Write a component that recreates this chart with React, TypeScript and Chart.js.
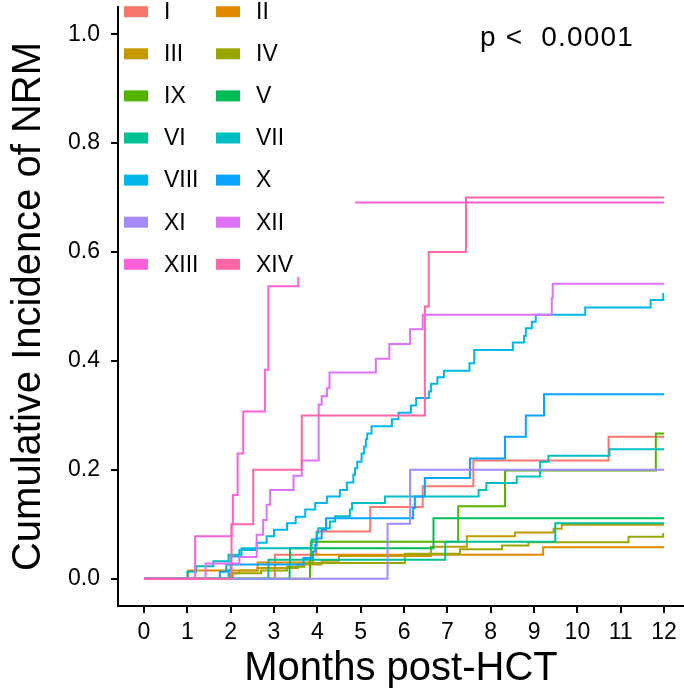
import React, { useEffect, useRef } from 'react';
import { Chart, registerables } from 'chart.js';

Chart.register(...registerables);

const FONT = '"Liberation Sans", Arial, Helvetica, sans-serif';

const groups = ['I', 'II', 'III', 'IV', 'IX', 'V', 'VI', 'VII', 'VIII', 'X', 'XI', 'XII', 'XIII', 'XIV'];
const colors = ['#F8766D', '#E38900', '#C49A00', '#99A800', '#53B400', '#00BC56', '#00C094', '#00BFC4', '#00B6EB', '#06A4FF', '#A58AFF', '#DF70F8', '#FB61D7', '#FF66A8'];

const tI = [0, 3.02, 3.98, 5.22, 6.43, 7.6, 10.72, 12];
const vI = [0, 0.044, 0.087, 0.132, 0.17, 0.217, 0.261, 0.261];

const tII = [0, 1.02, 2.62, 3.9, 9.21, 12];
const vII = [0, 0.015, 0.03, 0.044, 0.058, 0.058];

const tIII = [0, 1.99, 2.2, 2.62, 3.55, 4.1, 4.5, 6.62, 7.45, 8.56, 9.45, 9.64, 12];
const vIII = [0, 0.01, 0.015, 0.02, 0.026, 0.033, 0.042, 0.059, 0.078, 0.085, 0.092, 0.099, 0.099];

const tIV = [0, 2.05, 2.7, 3.3, 3.7, 6.02, 7.29, 8.26, 8.87, 11.18, 11.98, 12];
const vIV = [0, 0.01, 0.015, 0.022, 0.029, 0.046, 0.054, 0.061, 0.067, 0.077, 0.082, 0.082];

const tIX = [0, 3.83, 3.85, 7.25, 8.33, 11.81, 12];
const vIX = [0, 0.034, 0.068, 0.133, 0.199, 0.267, 0.267];

const tV = [0, 3.36, 3.37, 6.68, 12];
const vV = [0, 0.028, 0.056, 0.111, 0.111];

const tVI = [0, 2.87, 6.95, 9.49, 12];
const vVI = [0, 0.035, 0.068, 0.102, 0.102];

const tVII = [0, 1.0, 1.2, 1.6, 1.95, 2.25, 3.87, 3.99, 4.02, 4.29, 4.41, 4.75, 4.8, 5.56, 7.72, 7.9, 8.6, 9.14, 9.33, 10.74, 12];
const vVII = [0, 0.013, 0.023, 0.032, 0.044, 0.056, 0.072, 0.084, 0.093, 0.105, 0.115, 0.127, 0.139, 0.151, 0.163, 0.176, 0.188, 0.215, 0.226, 0.238, 0.238];

const tVIII = [0, 1.95, 2.0, 2.2, 2.6, 2.83, 3.0, 3.3, 3.5, 3.72, 3.95, 4.22, 4.52, 4.68, 4.83, 4.87, 4.92, 5.02, 5.08, 5.12, 5.15, 5.25, 5.72, 5.87, 6.16, 6.28, 6.58, 6.62, 6.77, 6.92, 7.51, 7.62, 8.51, 8.77, 8.81, 8.95, 9.04, 10.18, 11.69, 11.98, 12];
const vVIII = [0, 0.015, 0.041, 0.053, 0.066, 0.078, 0.09, 0.102, 0.114, 0.127, 0.139, 0.151, 0.163, 0.177, 0.191, 0.203, 0.215, 0.23, 0.243, 0.256, 0.267, 0.28, 0.293, 0.305, 0.318, 0.332, 0.344, 0.358, 0.37, 0.382, 0.396, 0.42, 0.434, 0.446, 0.46, 0.472, 0.485, 0.498, 0.512, 0.523, 0.523];

const tX = [0, 1.75, 1.9, 3.68, 3.9, 3.95, 3.98, 4.1, 4.2, 6.21, 6.25, 6.48, 7.52, 8.33, 8.81, 9.23, 12];
const vX = [0, 0.013, 0.026, 0.038, 0.05, 0.062, 0.074, 0.09, 0.111, 0.13, 0.151, 0.185, 0.221, 0.261, 0.3, 0.339, 0.339];

const tXI = [0, 5.62, 6.14, 12];
const vXI = [0, 0.101, 0.2, 0.2];

const tXII = [0, 1.42, 2.2, 2.6, 2.75, 2.83, 2.91, 3.45, 3.64, 4.03, 4.1, 4.22, 4.28, 5.35, 5.66, 6.14, 6.43, 9.41, 9.43, 12];
const vXII = [0, 0.028, 0.04, 0.081, 0.108, 0.136, 0.163, 0.189, 0.217, 0.32, 0.335, 0.35, 0.379, 0.404, 0.431, 0.458, 0.485, 0.515, 0.542, 0.542];

const tXIII = [0, 1.18, 2.02, 2.05, 2.16, 2.29, 2.79, 2.87, 3.56, 4.2, 4.87, 12];
const vXIII = [0, 0.078, 0.1, 0.154, 0.23, 0.307, 0.384, 0.537, 0.554, null, 0.691, 0.691];

const tXIV = [0, 2.02, 2.52, 3.64, 6.48, 6.57, 7.43, 12];
const vXIV = [0, 0.1, 0.2, 0.3, 0.5, 0.6, 0.7, 0.7];

const seriesTimes = [tI, tII, tIII, tIV, tIX, tV, tVI, tVII, tVIII, tX, tXI, tXII, tXIII, tXIV];
const seriesValues = [vI, vII, vIII, vIV, vIX, vV, vVI, vVII, vVIII, vX, vXI, vXII, vXIII, vXIV];

const xTicks = [0, 1, 2, 3, 4, 5, 6, 7, 8, 9, 10, 11, 12];
const yTicks = [0, 0.2, 0.4, 0.6, 0.8, 1.0];

const xTitle = 'Months post-HCT';
const yTitle = 'Cumulative Incidence of NRM';
const pLabel = 'p <  0.0001';

export default function App() {
  const ref = useRef<HTMLCanvasElement>(null);

  useEffect(() => {
    document.body.style.margin = '0';
    const canvas = ref.current;
    if (!canvas) return;

    const datasets = groups.map((g, i) => ({
      label: g,
      data: seriesTimes[i].map((t, j) => ({ x: t, y: seriesValues[i][j] })),
      borderColor: colors[i],
      backgroundColor: colors[i],
      borderWidth: 2,
      pointRadius: 0,
      pointHoverRadius: 0,
      stepped: true,
      fill: false,
      spanGaps: false,
      order: groups.length - 1 - i,
    }));

    const overlay = {
      id: 'overlay',
      afterDraw(chart: any) {
        const ctx = chart.ctx;
        const area = chart.chartArea;
        ctx.save();
        groups.forEach((g, i) => {
          const col = i % 2;
          const row = Math.floor(i / 2);
          const x0 = area.left + 6 + col * 92;
          const yc = area.top + 4.7 + row * 42.1;
          ctx.fillStyle = colors[i];
          ctx.fillRect(x0, yc - 5.5, 24, 11);
          ctx.fillStyle = '#000';
          ctx.font = `23px ${FONT}`;
          ctx.textAlign = 'left';
          ctx.textBaseline = 'middle';
          ctx.fillText(g, x0 + 40, yc + 1);
        });
        ctx.font = `28px ${FONT}`;
        ctx.fillStyle = '#000';
        ctx.textAlign = 'left';
        ctx.textBaseline = 'middle';
        try { (ctx as any).letterSpacing = '1.2px'; } catch (e) {}
        ctx.fillText(pLabel, 480, 38);
        ctx.restore();
      },
    };

    const chart = new Chart(canvas, {
      type: 'line',
      data: { datasets: datasets as any },
      options: {
        animation: false,
        responsive: false,
        devicePixelRatio: 1,
        layout: { padding: { top: 7, right: 0, left: 0, bottom: 0 } },
        plugins: {
          legend: { display: false },
          tooltip: { enabled: false },
        },
        scales: {
          x: {
            type: 'linear',
            min: -0.6,
            max: 12.46,
            afterBuildTicks: (s: any) => { s.ticks = xTicks.map((v) => ({ value: v })); },
            afterFit: (s: any) => { s.height = 89; s.paddingLeft = 0; s.paddingRight = 0; },
            ticks: {
              autoSkip: false,
              maxRotation: 0,
              color: '#000',
              padding: 6,
              font: { size: 23, family: FONT },
              callback: (v: any) => String(v),
            },
            grid: { display: true, drawOnChartArea: false, drawTicks: true, tickLength: 7, lineWidth: 2, color: '#000' },
            border: { display: true, color: '#000', width: 2 },
            title: { display: true, text: xTitle, color: '#000', font: { size: 40, family: FONT }, padding: { top: 0, bottom: 2 } },
          },
          y: {
            type: 'linear',
            min: -0.05,
            max: 1.05,
            afterBuildTicks: (s: any) => { s.ticks = yTicks.map((v) => ({ value: v })); },
            afterFit: (s: any) => { s.width = 118; s.paddingTop = 0; s.paddingBottom = 0; },
            ticks: {
              color: '#000',
              padding: 11,
              font: { size: 23, family: FONT },
              callback: (v: any) => Number(v).toFixed(1),
            },
            grid: { display: true, drawOnChartArea: false, drawTicks: true, tickLength: 7, lineWidth: 2, color: '#000' },
            border: { display: true, color: '#000', width: 2 },
            title: { display: true, text: yTitle, color: '#000', font: { size: 40, family: FONT }, padding: { top: 5, bottom: 0 } },
          },
        },
      },
      plugins: [overlay],
    });

    return () => chart.destroy();
  }, []);

  return (
    <div style={{ position: 'absolute', left: 0, top: 0, width: 684, height: 695 }}>
      <canvas ref={ref} width={684} height={695} style={{ display: 'block' }} />
    </div>
  );
}
